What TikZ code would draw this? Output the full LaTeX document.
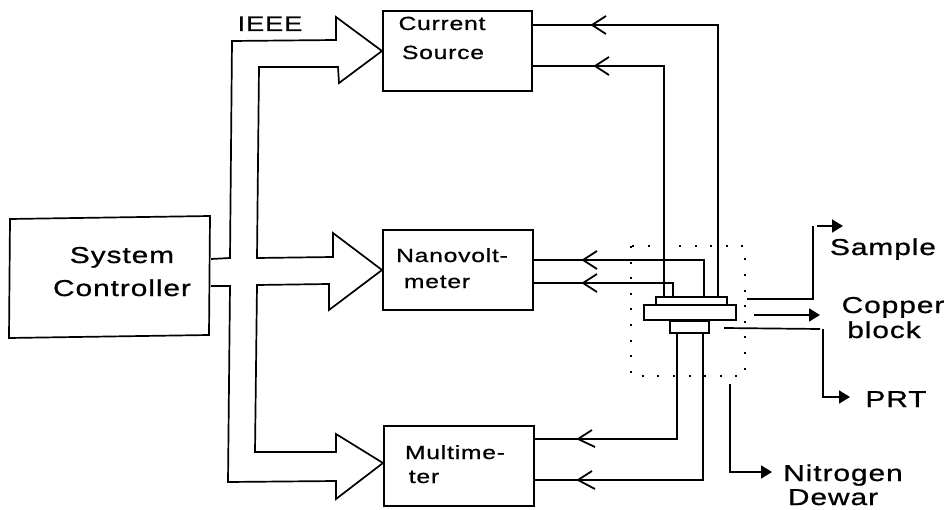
\documentclass[tikz,border=0pt]{standalone}
\usepackage{fontspec}
\usetikzlibrary{arrows.meta}
\newfontfamily\labfont[FakeStretch=1.3,FakeBold=0.8,LetterSpace=4]{Liberation Sans}
\tikzset{
  x=1pt,y=-1pt,
  every path/.style={line width=1.7pt,line join=miter},
  boxnode/.style={draw,anchor=north west,inner sep=0pt,minimum width=#1},
  boxnode/.default=100pt,
  plate/.style={draw,anchor=north west,inner sep=0pt},
  smalltxt/.style={anchor=base,inner sep=0pt,font=\labfont\fontsize{19}{19}\selectfont},
  midtxt/.style={anchor=base,inner sep=0pt,font=\labfont\fontsize{21}{21}\selectfont},
  bigtxt/.style={anchor=base,inner sep=0pt,font=\labfont\fontsize{23}{23}\selectfont},
  wire/.style={line width=1.7pt},
  solidarrow/.style={-{Triangle[length=11pt,width=13pt]}},
  barbs/.style={line width=1.8pt},
  dotbox/.style={line width=2pt,dash pattern=on 2pt off 13.6pt}
}
\begin{document}
\begin{tikzpicture}
\useasboundingbox (0,0) rectangle (949,510);
% boxes
\node[boxnode=200pt,minimum height=120pt,draw=none] (sys) at (9.5,217) {};
\draw (10,219) -- (210,216) -- (209,335) -- (9,338) -- cycle;
\node[boxnode=149pt,minimum height=80pt] (cs) at (382,10) {};
\node[boxnode=150pt,minimum height=80pt] (nv) at (382,229) {};
\node[boxnode=150pt,minimum height=80pt] (mm) at (383,425) {};
% sample stack
\node[plate,minimum width=71pt,minimum height=8pt] (top) at (655,296) {};
\node[plate,minimum width=92pt,minimum height=15pt] (block) at (643,304) {};
\node[plate,minimum width=39pt,minimum height=12pt] (low) at (669,320) {};
\node[plate,draw=none,minimum width=112pt,minimum height=128pt] (frame) at (631,246) {};
\draw[dotbox] (frame.north west) rectangle (frame.south east);
% labels
\node[midtxt] (lieee) at (270,31) {IEEE};
\node[smalltxt] (l1) at (442,30) {Current};
\node[smalltxt] (l2) at (443,59) {Source};
\node[smalltxt] (l3) at (452,262) {Nanovolt-};
\node[smalltxt] (l4) at (437,288) {meter};
\node[smalltxt] (l5) at (455,459) {Multime-};
\node[smalltxt] (l6) at (424,483) {ter};
\node[bigtxt] (l7) at (122,263) {System};
\node[bigtxt] (l8) at (122,296) {Controller};
\node[bigtxt] (l9) at (883,255) {Sample};
\node[bigtxt] (l10) at (893,313) {Copper};
\node[bigtxt] (l11) at (884,338) {block};
\node[bigtxt] (l12) at (896,407) {PRT};
\node[bigtxt] (l13) at (843,481) {Nitrogen};
\node[bigtxt] (l14) at (833,505) {Dewar};
% bus
\coordinate (b1) at (210,259);
\coordinate (b2) at (210,286);
\coordinate (tipc) at (381,51);
\coordinate (tipn) at (381,270);
\coordinate (tipm) at (382,463);
\draw (sys.east |- b1) -- (230,258) -- (232,41) -- (336,40) -- (336,17) -- (cs.west |- tipc) -- (339,83) -- (338,67) -- (259,67) -- (257,258) -- (333,257) -- (333,233) -- (nv.west |- tipn) -- (329,310) -- (329,284) -- (257,285) -- (255,452) -- (336,452) -- (336,434) -- (mm.west |- tipm) -- (336,499) -- (336,481) -- (228,482) -- (230,286) -- (sys.east |- b2);
% signal wires
\coordinate (w1) at (718,25);
\coordinate (w2) at (664,66);
\coordinate (w3) at (704,260);
\coordinate (w4) at (673,283);
\coordinate (w5) at (677,439);
\coordinate (w6) at (703,480);
\draw[wire] (cs.east |- w1) -- (w1) -- (w1 |- top.north);
\draw[wire] (cs.east |- w2) -- (w2) -- (w2 |- top.north);
\draw[wire] (nv.east |- w3) -- (w3) -- (w3 |- top.north);
\draw[wire] (nv.east |- w4) -- (w4) -- (w4 |- top.north);
\draw[wire] (mm.east |- w5) -- (w5) -- (w5 |- low.south);
\draw[wire] (mm.east |- w6) -- (w6) -- (w6 |- low.south);
% open arrowheads
\draw[barbs] (606,16) -- (592,25) -- (606,34);
\draw[barbs] (609,57) -- (595,66) -- (609,75);
\draw[barbs] (597,251) -- (583,260) -- (597,269);
\draw[barbs] (597,274) -- (583,283) -- (597,292);
\draw[barbs] (592,430) -- (578,439) -- (595,447);
\draw[barbs] (592,471) -- (578,480) -- (595,489);
% outgoing arrows
\coordinate (s0) at (747,299);
\coordinate (s1) at (843,226);
\draw[wire] (s0) -- (813,299) -- (813,226);
\draw[wire,solidarrow] (817,226) -- (s1);
\coordinate (c0) at (754,315);
\coordinate (c1) at (820,315);
\draw[wire,solidarrow] (c0) -- (c1);
\coordinate (p0) at (724,328);
\coordinate (p1) at (850,397);
\draw[wire] (p0) -- (820,329);
\draw[wire,solidarrow] (823,329) -- (823,397) -- (p1);
\coordinate (n0) at (730,384);
\coordinate (n1) at (772,472);
\draw[wire,solidarrow] (n0) -- (730,472) -- (n1);
\end{tikzpicture}
\end{document}
